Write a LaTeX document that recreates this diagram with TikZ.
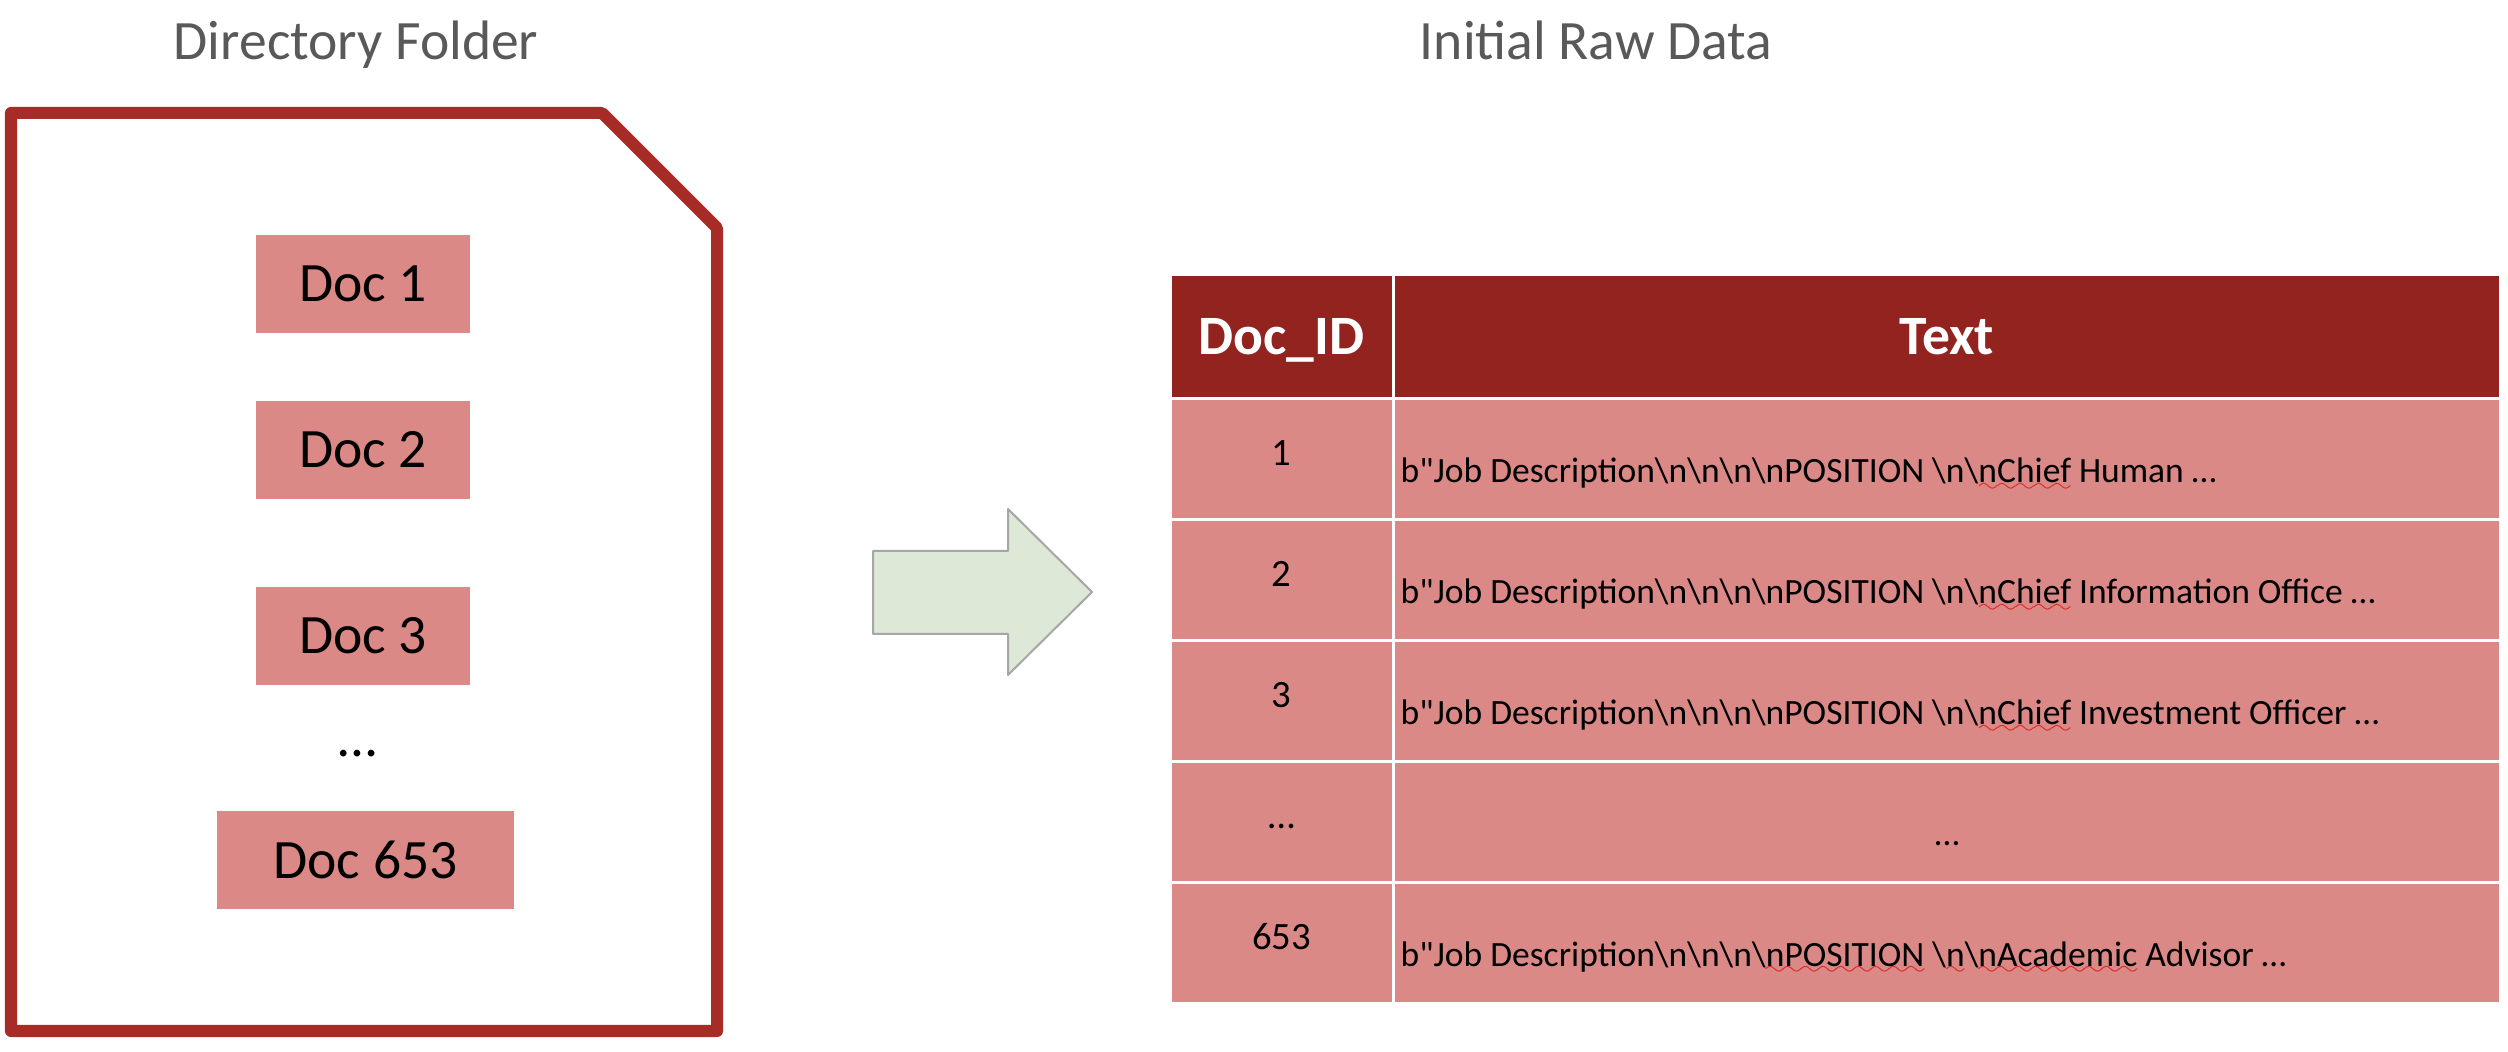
\documentclass[tikz,border=0pt]{standalone}
\usepackage{fontspec}
\setmainfont{Carlito}
\definecolor{folderred}{RGB}{167,43,39}
\definecolor{headred}{RGB}{146,35,30}
\definecolor{cellpink}{RGB}{218,137,134}
\definecolor{titlegray}{RGB}{89,89,89}
\definecolor{arrowgreen}{RGB}{222,232,214}
\definecolor{arrowgray}{RGB}{166,166,166}
\definecolor{typored}{RGB}{220,40,40}
\newcommand\bs{\textbackslash}
% spell-check wave under a word
\font\wavefont=lasy6
\newcommand\typo[1]{\setbox0\hbox{#1}\rlap{\textcolor{typored}{\lower2.4pt\hbox to\wd0{\xleaders\hbox{\wavefont\char58}\hfil}}}\box0\relax}
\newcommand\jobtext{b\textquotedbl Job Description\bs n\bs n\bs n\bs nPOSITION \bs n\bs}
\begin{document}
\begin{tikzpicture}[x=0.01cm, y=-0.01cm, line join=round,
    title/.style={text=titlegray, font=\fontsize{15.8}{19}\selectfont, anchor=base},
    docbox/.style={fill=cellpink, minimum width=2.14cm, minimum height=0.98cm,
      inner sep=0pt, font=\fontsize{15.8}{19}\selectfont},
    cell/.style={fill=cellpink, draw=white, line width=0.03cm},
    headcell/.style={fill=headred, draw=white, line width=0.03cm},
    headtext/.style={text=white, font=\fontsize{15.8}{19}\selectfont\bfseries, anchor=base},
    idtext/.style={font=\fontsize{11}{13}\selectfont, anchor=base, inner sep=0pt},
    rowtext/.style={font=\fontsize{10.1}{12}\selectfont, inner sep=0pt}]
  \useasboundingbox (0,0) rectangle (2508,1052);
  % directory folder
  \node[title] (ftitle) at (356,60) {Directory Folder};
  \draw[folderred, line width=0.12cm]
    (11,113) -- (602,113) -- (717,228) -- (717,1031) -- (11,1031) -- cycle;
  \node[docbox] (doc1) at (363,284) {Doc 1};
  \node[docbox] (doc2) at (363,450) {Doc 2};
  \node[docbox] (doc3) at (363,636) {Doc 3};
  \node[font=\fontsize{15.8}{19}\selectfont, anchor=base] (docdots) at (358,756) {…};
  \node[docbox, minimum width=2.97cm] (doc653) at (365.5,860) {Doc 653};
  % arrow
  \filldraw[fill=arrowgreen, draw=arrowgray, line width=0.02cm]
    (873,551) -- (1008,551) -- (1008,509) -- (1092,592) -- (1008,675)
    -- (1008,634) -- (873,634) -- cycle;
  % raw data table
  \node[title] (ttitle) at (1596,60) {Initial Raw Data};
  \filldraw[headcell] (1170,275) rectangle (1393.5,399);
  \filldraw[headcell] (1393.5,275) rectangle (2500,399);
  \node[headtext] (hid) at (1281.5,355) {Doc\_ID};
  \node[headtext] (htext) at (1946.75,355) {Text};
  \foreach \id/\txt/\tx/\ta [count=\i from 0] in {
      1/{\jobtext\typo{nChief} Human …}/1400/base west,
      2/{\jobtext\typo{nChief} Information Office …}/1400/base west,
      3/{\jobtext\typo{nChief} Investment Officer …}/1400/base west,
      …/…/1947/base,
      653/{b\textquotedbl Job Description\bs n\bs n\bs n\bs\typo{nPOSITION} \bs\typo{n}\bs\typo{nAcademic} Advisor …}/1400/base west} {
    \pgfmathsetmacro\rtop{399+120.8*\i}
    \filldraw[cell] (1170,\rtop) rectangle (1393.5,\rtop+120.8);
    \filldraw[cell] (1393.5,\rtop) rectangle (2500,\rtop+120.8);
    \node[idtext] (id\i) at (1281.5,\rtop+67) {\id};
    \node[rowtext, anchor=\ta] (txt\i) at (\tx,\rtop+84) {\txt};
  }
\end{tikzpicture}
\end{document}
